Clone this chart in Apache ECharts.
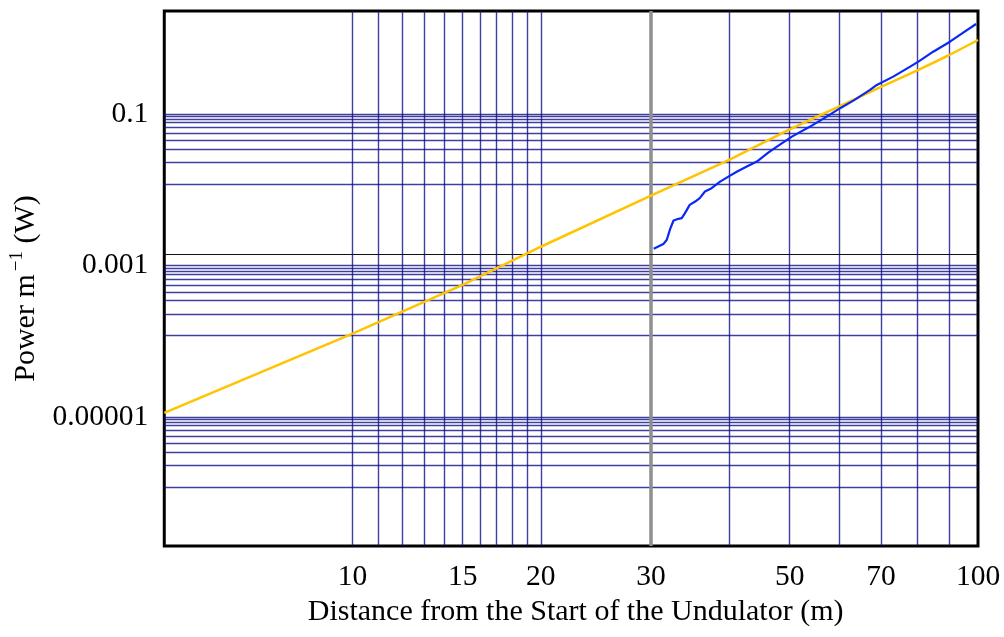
<!DOCTYPE html>
<html><head><meta charset="utf-8">
<script src="https://cdn.jsdelivr.net/npm/echarts@6/dist/echarts.min.js"></script>
<style>html,body{margin:0;padding:0;background:#fff}#c{width:1004px;height:637px}</style>
</head><body><div id="c"></div>
<script>
// ---- data ----
const yellowX = [5, 10, 15, 20, 30, 40, 50, 60, 70, 80, 90, 100];
const yellowY = [1.14e-5, 1.27e-4, 5.6e-4, 1.78e-3, 8.4e-3, 0.0249, 0.063, 0.127, 0.229, 0.378, 0.604, 0.953];

const blueX = [30.3, 31.4, 31.8, 32.2, 32.6, 33.2, 33.6, 34.0, 34.6, 35.3, 35.9, 36.6, 37.5, 38.7, 39.9, 41.2, 42.7, 44.3, 46.2, 47.7, 50.4, 53.9, 57.3, 60.2, 63.2, 67.2, 68.9, 73.2, 77.9, 80.3, 84.8, 90.2, 94.7, 99.3];
const blueY = [1.67e-3, 1.93e-3, 2.20e-3, 3.07e-3, 3.95e-3, 4.16e-3, 4.25e-3, 4.94e-3, 6.36e-3, 7.03e-3, 7.80e-3, 9.53e-3, 1.056e-2, 1.29e-2, 1.50e-2, 1.75e-2, 2.04e-2, 2.37e-2, 3.10e-2, 3.74e-2, 5.06e-2, 6.86e-2, 9.29e-2, 0.120, 0.151, 0.209, 0.243, 0.313, 0.424, 0.493, 0.668, 0.905, 1.19, 1.55];

const xTickValues = [10, 15, 20, 30, 50, 70, 100];
const xTickLabels = ['10', '15', '20', '30', '50', '70', '100'];
const yTickValues = [0.1, 0.001, 0.00001];
const yTickLabels = ['0.1', '0.001', '0.00001'];

const xGridValues = [10, 11, 12, 13, 14, 15, 16, 17, 18, 19, 20, 40, 50, 60, 70, 80, 90];
const xMarkerValue = 30;
const yGridDecades = [0.1, 0.001, 0.00001];
const yGridMultipliers = [1, 0.93, 0.85, 0.78, 0.67, 0.555, 0.45, 0.345, 0.23, 0.12];
const yMarkerValue = 0.00142;

// ---- chart ----
const font = "'Liberation Serif','Times New Roman',serif";
function lab(vals, labels) {
  return function (v) {
    for (let i = 0; i < vals.length; i++) {
      if (Math.abs(vals[i] - v) / vals[i] < 1e-6) return labels[i];
    }
    return String(v);
  };
}
const gridColor = 'rgba(15,15,135,0.8)';
const markData = [];
xGridValues.forEach(v => markData.push({ xAxis: v, lineStyle: { color: gridColor, width: 1.4, type: 'solid' } }));
yGridDecades.forEach(d => yGridMultipliers.forEach(m => markData.push({ yAxis: d * m, lineStyle: { color: gridColor, width: 1.4, type: 'solid' } })));
markData.push({ xAxis: xMarkerValue, lineStyle: { color: '#8f8f8f', width: 3.5, type: 'solid' } });
markData.push({ yAxis: yMarkerValue, lineStyle: { color: '#111', width: 1.2, type: 'solid' } });

const chart = echarts.init(document.getElementById('c'), null, { renderer: 'canvas' });
chart.setOption({
  animation: false,
  backgroundColor: '#fff',
  grid: { left: 164, right: 26, top: 11, bottom: 91, show: true, borderColor: '#000', borderWidth: 3, backgroundColor: '#fff', z: 0 },
  xAxis: {
    type: 'log', logBase: 10, min: 5, max: 100,
    name: 'Distance from the Start of the Undulator (m)',
    nameLocation: 'middle', nameGap: 50,
    nameTextStyle: { fontFamily: font, fontSize: 30, color: '#000', padding: [0, 0, 0, 9] },
    axisLine: { show: false }, axisTick: { show: false }, splitLine: { show: false },
    axisLabel: { customValues: xTickValues, formatter: lab(xTickValues, xTickLabels), fontFamily: font, fontSize: 29.5, color: '#000', margin: 16 }
  },
  yAxis: {
    type: 'log', logBase: 10, min: 2e-7, max: 2.3,
    name: '{a|Power m}{sup|\u22121}{a| (W)}',
    nameLocation: 'middle', nameRotate: 90, nameGap: 118,
    nameTextStyle: {
      fontFamily: font, fontSize: 30, color: '#000', padding: [0, 20, 0, 0],
      rich: {
        a: { fontFamily: font, fontSize: 30, color: '#000' },
        sup: { fontFamily: font, fontSize: 19, color: '#000', padding: [0, 0, 18, 3] }
      }
    },
    axisLine: { show: false }, axisTick: { show: false }, splitLine: { show: false },
    axisLabel: { customValues: yTickValues, formatter: lab(yTickValues, yTickLabels), fontFamily: font, fontSize: 29.5, color: '#000', margin: 16, padding: [11, 0, 0, 0] }
  },
  series: [
    {
      name: 'grid', type: 'line', data: [], z: 1, silent: true,
      markLine: { silent: true, precision: 12, symbol: ['none', 'none'], label: { show: false }, animation: false, data: markData }
    },
    {
      name: 'model', type: 'line', z: 5, symbol: 'none', silent: true,
      lineStyle: { color: '#FFC400', width: 2.5 },
      data: yellowX.map((x, i) => [x, yellowY[i]])
    },
    {
      name: 'simulation', type: 'line', z: 6, symbol: 'none', silent: true,
      lineStyle: { color: '#0A28F5', width: 2.2 },
      data: blueX.map((x, i) => [x, blueY[i]])
    }
  ]
});
</script>
</body></html>
